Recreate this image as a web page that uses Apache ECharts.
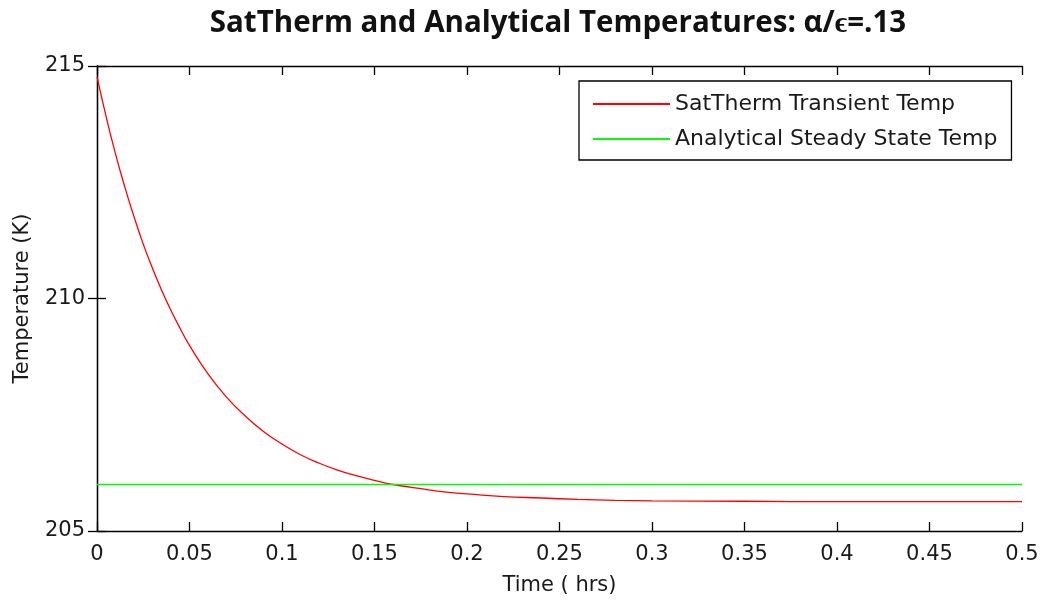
<!DOCTYPE html>
<html>
<head>
<meta charset="utf-8">
<script src="https://cdn.jsdelivr.net/npm/echarts@6/dist/echarts.min.js"></script>
<style>html,body{margin:0;padding:0;background:#fff;}#c{width:1044px;height:601px;}</style>
</head>
<body>
<div id="c"></div>
<script>
const titleText = 'SatTherm and Analytical Temperatures: α/ϵ=.13';
const seriesNames = ['SatTherm Transient Temp', 'Analytical Steady State Temp'];
const timeHrs = [0, 0.005, 0.01, 0.015, 0.02, 0.025, 0.03, 0.035, 0.04, 0.045, 0.05, 0.06, 0.07, 0.08, 0.09, 0.10, 0.11, 0.12, 0.13, 0.14, 0.15, 0.16, 0.17, 0.18, 0.19, 0.20, 0.22, 0.24, 0.26, 0.28, 0.30, 0.35, 0.40, 0.45, 0.50];
const transientTemp = [214.77, 213.90, 213.11, 212.40, 211.76, 211.17, 210.65, 210.17, 209.74, 209.35, 208.99, 208.38, 207.88, 207.48, 207.14, 206.87, 206.64, 206.46, 206.31, 206.19, 206.09, 206.00, 205.94, 205.88, 205.83, 205.80, 205.74, 205.71, 205.68, 205.66, 205.65, 205.64, 205.63, 205.63, 205.63];
const steadyTime = [0, 0.5];
const steadyTemp = [206.0, 206.0];
const xTicks = [0, 0.05, 0.1, 0.15, 0.2, 0.25, 0.3, 0.35, 0.4, 0.45, 0.5];
const yTicks = [205, 210, 215];

const chart = echarts.init(document.getElementById('c'), null, {renderer: 'canvas'});
const FONT = 'DejaVu Sans';
const tickFont = {fontFamily: FONT, fontSize: 21, color: '#1a1a1a'};
const axisLine = {show: true, lineStyle: {color: '#000', width: 1.3}};
const axisTick = {show: true, inside: true, length: 9, lineStyle: {color: '#000', width: 1.3}};
chart.setOption({
  backgroundColor: '#fff',
  animation: false,
  title: {
    text: titleText,
    left: 553, textAlign: 'center', top: 4,
    textStyle: {fontFamily: 'Open Sans', fontWeight: 'bold', fontSize: 29.5, color: '#111'}
  },
  legend: {
    orient: 'vertical',
    left: 579, top: 81,
    padding: [12, 14, 10, 14],
    itemGap: 13,
    itemWidth: 77, itemHeight: 2,
    icon: 'rect',
    borderColor: '#000', borderWidth: 1.3,
    backgroundColor: '#fff',
    textStyle: {fontFamily: FONT, fontSize: 22, color: '#1a1a1a'},
    data: seriesNames
  },
  grid: {left: 97, right: 22, top: 66, bottom: 68, containLabel: false},
  xAxis: [{
    type: 'value', min: 0, max: 0.5, interval: 0.05,
    name: 'Time ( hrs)', nameLocation: 'middle', nameGap: 44,
    nameTextStyle: {fontFamily: FONT, fontSize: 21, color: '#1a1a1a'},
    axisLine: axisLine, axisTick: axisTick,
    axisLabel: Object.assign({margin: 13, formatter: v => { const t = xTicks.find(x => Math.abs(x - v) < 1e-9); return t === undefined ? '' : String(t); }, showMinLabel: true, showMaxLabel: true}, tickFont),
    splitLine: {show: false}
  }, {
    type: 'value', position: 'top', min: 0, max: 0.5, interval: 0.05,
    axisLine: axisLine, axisTick: axisTick, axisLabel: {show: false}, splitLine: {show: false}
  }],
  yAxis: [{
    type: 'value', min: 205, max: 215, interval: 5,
    name: 'Temperature (K)', nameLocation: 'middle', nameGap: 64,
    nameTextStyle: {fontFamily: FONT, fontSize: 21, color: '#1a1a1a'},
    axisLine: axisLine, axisTick: axisTick,
    axisLabel: Object.assign({margin: 12, formatter: v => String(yTicks.find(y => Math.abs(y - v) < 1e-9) ?? '')}, tickFont),
    splitLine: {show: false}
  }, {
    type: 'value', position: 'right', min: 205, max: 215, interval: 5,
    axisLine: axisLine, axisTick: axisTick, axisLabel: {show: false}, splitLine: {show: false}
  }],
  series: [{
    name: seriesNames[0], type: 'line', smooth: true, symbol: 'none',
    lineStyle: {color: '#ff0000', width: 1.3}, itemStyle: {color: '#ff0000'},
    data: timeHrs.map((t, i) => [t, transientTemp[i]])
  }, {
    name: seriesNames[1], type: 'line', symbol: 'none',
    lineStyle: {color: '#00ff00', width: 1.6}, itemStyle: {color: '#00ff00'},
    data: steadyTime.map((t, i) => [t, steadyTemp[i]])
  }]
});
</script>
</body>
</html>
